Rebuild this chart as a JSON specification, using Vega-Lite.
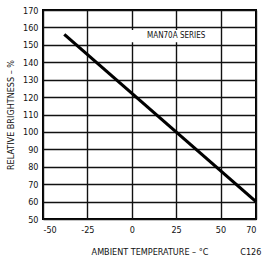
{
  "$schema": "https://vega.github.io/schema/vega-lite/v6.json",
  "width": 213,
  "height": 209,
  "autosize": "none",
  "padding": {"left": 43, "top": 10, "right": 6, "bottom": 40},
  "background": "white",
  "config": {
    "view": {"stroke": "black", "strokeWidth": 2},
    "font": "Liberation Sans Narrow, DejaVu Sans Condensed, DejaVu Sans",
    "axis": {
      "grid": true,
      "gridColor": "#111",
      "gridOpacity": 1,
      "gridWidth": 1.4,
      "domain": false,
      "ticks": false,
      "labelOverlap": false,
      "labelFontSize": 9,
      "labelColor": "#111",
      "labelExpr": "'' + datum.value",
      "titleFontSize": 9,
      "titleColor": "#111",
      "titleFontWeight": "normal"
    }
  },
  "title": {
    "text": "C126",
    "orient": "bottom",
    "anchor": "end",
    "fontSize": 9,
    "fontWeight": "normal",
    "color": "#111",
    "dx": -1,
    "offset": -8
  },
  "layer": [
    {
      "data": {"values": [{"x1": -12, "x2": 45, "y1": 151.5, "y2": 158.5}]},
      "mark": {"type": "rect", "fill": "white"},
      "encoding": {
        "x": {
          "field": "x1",
          "type": "quantitative",
          "scale": {"domain": [-50, 70], "nice": false, "zero": false},
          "axis": {
            "values": [-50, -25, 0, 25, 50, 70],
            "tickCount": 6,
            "title": "AMBIENT TEMPERATURE – °C",
            "labelPadding": 6,
            "titlePadding": 13
          }
        },
        "x2": {"field": "x2"},
        "y": {
          "field": "y1",
          "type": "quantitative",
          "scale": {"domain": [50, 170], "nice": false, "zero": false},
          "axis": {
            "values": [50, 60, 70, 80, 90, 100, 110, 120, 130, 140, 150, 160, 170],
            "tickCount": 13,
            "title": "RELATIVE BRIGHTNESS – %",
            "labelPadding": 5,
            "titlePadding": 7
          }
        },
        "y2": {"field": "y2"}
      }
    },
    {
      "data": {"values": [{"x": 25, "y": 155.2, "label": "MAN70A SERIES"}]},
      "mark": {"type": "text", "fontSize": 8, "color": "#111", "align": "center", "baseline": "middle"},
      "encoding": {
        "x": {"field": "x", "type": "quantitative"},
        "y": {"field": "y", "type": "quantitative"},
        "text": {"field": "label"}
      }
    },
    {
      "data": {"values": [{"t": -38, "b": 156}, {"t": 70, "b": 60}]},
      "mark": {"type": "line", "color": "black", "strokeWidth": 3.2, "clip": false},
      "encoding": {
        "x": {"field": "t", "type": "quantitative"},
        "y": {"field": "b", "type": "quantitative"}
      }
    }
  ]
}
